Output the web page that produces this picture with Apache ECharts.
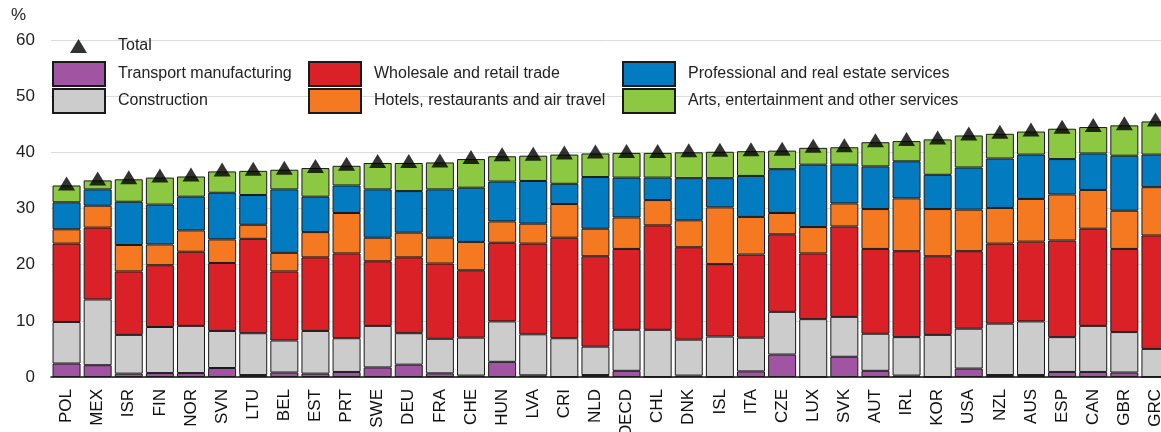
<!DOCTYPE html>
<html>
<head>
<meta charset="utf-8">
<script src="https://cdn.jsdelivr.net/npm/echarts@6/dist/echarts.min.js"></script>
<style>
html, body { margin: 0; padding: 0; background: #fff; }
#main { width: 1161px; height: 432px; }
</style>
</head>
<body>
<div id="main"></div>
<script>
let chart = echarts.init(document.getElementById('main'));

// Countries, sorted by total
let countries = ['POL', 'MEX', 'ISR', 'FIN', 'NOR', 'SVN', 'LTU', 'BEL', 'EST', 'PRT', 'SWE', 'DEU',
    'FRA', 'CHE', 'HUN', 'LVA', 'CRI', 'NLD', 'OECD', 'CHL', 'DNK', 'ISL', 'ITA', 'CZE',
    'LUX', 'SVK', 'AUT', 'IRL', 'KOR', 'USA', 'NZL', 'AUS', 'ESP', 'CAN', 'GBR', 'GRC'];

let transport = [2.4, 2.1, 0.6, 0.7, 0.7, 1.6, 0.35, 0.8, 0.6, 0.9, 1.7, 2.2,
    0.65, 0.25, 2.7, 0.3, 0, 0.35, 1.1, 0, 0.25, 0, 1.0, 4.0,
    0, 3.6, 1.1, 0.25, 0, 1.5, 0.35, 0.35, 0.9, 0.9, 0.8, 0];
let construction = [7.4, 11.7, 6.9, 8.2, 8.4, 6.6, 7.45, 5.7, 7.6, 6.0, 7.4, 5.6,
    6.15, 6.75, 7.2, 7.3, 6.9, 5.05, 7.3, 8.4, 6.4, 7.2, 6.0, 7.6,
    10.3, 7.1, 6.6, 6.85, 7.5, 7.1, 9.15, 9.55, 6.2, 8.2, 7.2, 5.0];
let wholesale = [13.95, 12.8, 11.3, 11.0, 13.2, 12.1, 16.8, 12.3, 13.1, 15.1, 11.5, 13.5,
    13.4, 12.0, 14.0, 16.15, 17.9, 16.1, 14.4, 18.6, 16.45, 12.9, 14.8, 13.8,
    11.7, 16.1, 15.1, 15.3, 14.0, 13.8, 14.25, 14.2, 17.2, 17.3, 14.8, 20.2];
let hotels = [2.55, 3.9, 4.7, 3.7, 3.8, 4.2, 2.5, 3.3, 4.5, 7.2, 4.2, 4.4,
    4.6, 5.05, 3.8, 3.55, 6.0, 4.9, 5.6, 4.5, 4.8, 10.1, 6.7, 3.8,
    4.7, 4.1, 7.1, 9.4, 8.4, 7.4, 6.35, 7.6, 8.2, 6.9, 6.8, 8.6];
let professional = [4.8, 2.9, 7.7, 7.1, 6.0, 8.3, 5.3, 11.3, 6.3, 4.9, 8.6, 7.4,
    8.6, 9.65, 7.1, 7.6, 3.6, 9.2, 7.1, 4.0, 7.5, 5.2, 7.3, 7.8,
    11.1, 6.9, 7.6, 6.6, 6.1, 7.5, 8.8, 7.9, 6.3, 6.5, 9.8, 5.8];
let arts = [3.0, 1.6, 4.0, 4.8, 3.6, 3.8, 4.3, 3.5, 5.1, 3.5, 4.7, 5.0,
    4.8, 5.1, 4.5, 4.5, 5.2, 4.2, 4.4, 4.4, 4.6, 4.7, 4.4, 3.3,
    3.0, 3.1, 4.3, 3.6, 6.3, 5.7, 4.4, 4.1, 5.4, 4.7, 5.4, 5.9];
let totals = [34.1, 35.0, 35.2, 35.5, 35.7, 36.6, 36.7, 36.9, 37.2, 37.6, 38.1, 38.1,
    38.2, 38.8, 39.3, 39.4, 39.6, 39.8, 39.9, 39.9, 40.0, 40.1, 40.2, 40.3,
    40.8, 40.9, 41.8, 42.0, 42.3, 43.0, 43.3, 43.7, 44.2, 44.5, 44.8, 45.5];

let font = "'Liberation Sans', Arial, sans-serif";

function barSeries(name, data, color) {
    return {
        name: name,
        type: 'bar',
        stack: 'total',
        data: data,
        barWidth: 28,
        itemStyle: { color: color, borderColor: '#1a1a1a', borderWidth: 1 }
    };
}

function legendBlock(names, left) {
    return {
        data: names,
        orient: 'vertical',
        left: left,
        top: 61,
        padding: 0,
        icon: 'rect',
        itemWidth: 52,
        itemHeight: 24,
        itemGap: 1,
        selectedMode: false,
        textStyle: { fontFamily: font, fontSize: 16, color: '#222', padding: [0, 0, 0, 8] }
    };
}

let option = {
    animation: false,
    grid: { left: 51, top: 40, width: 1120, height: 337, outerBoundsMode: 'none', containLabel: false },
    legend: [
        {
            data: ['Total'],
            left: 70,
            top: 38,
            padding: 0,
            itemWidth: 17,
            itemHeight: 14,
            selectedMode: false,
            textStyle: { fontFamily: font, fontSize: 16, color: '#222', padding: [0, 0, 0, 26] }
        },
        legendBlock(['Transport manufacturing', 'Construction'], 52),
        legendBlock(['Wholesale and retail trade', 'Hotels, restaurants and air travel'], 308),
        legendBlock(['Professional and real estate services', 'Arts, entertainment and other services'], 622)
    ],
    graphic: [{
        type: 'text',
        left: 11,
        top: 7,
        style: { text: '%', font: '17px ' + font, fill: '#222' }
    }],
    xAxis: {
        type: 'category',
        data: countries,
        axisLine: { lineStyle: { color: '#111', width: 1.5 } },
        axisTick: { show: false },
        axisLabel: { rotate: 90, margin: 12, fontFamily: font, fontSize: 17, color: '#111' }
    },
    yAxis: {
        type: 'value',
        min: 0,
        max: 60,
        interval: 10,
        axisLine: { show: false },
        axisTick: { show: false },
        axisLabel: { margin: 16, fontFamily: font, fontSize: 17, color: '#222' },
        splitLine: { lineStyle: { color: '#dcdcdc', width: 1 } }
    },
    series: [
        barSeries('Transport manufacturing', transport, '#A154A1'),
        barSeries('Construction', construction, '#CCCCCC'),
        barSeries('Wholesale and retail trade', wholesale, '#DA2128'),
        barSeries('Hotels, restaurants and air travel', hotels, '#F47920'),
        barSeries('Professional and real estate services', professional, '#037BC1'),
        barSeries('Arts, entertainment and other services', arts, '#8CC841'),
        {
            name: 'Total',
            type: 'scatter',
            data: totals,
            symbol: 'triangle',
            symbolSize: [17, 14],
            symbolOffset: [0, -2],
            itemStyle: { color: '#000' },
            z: 5
        }
    ]
};

chart.setOption(option);
</script>
</body>
</html>
